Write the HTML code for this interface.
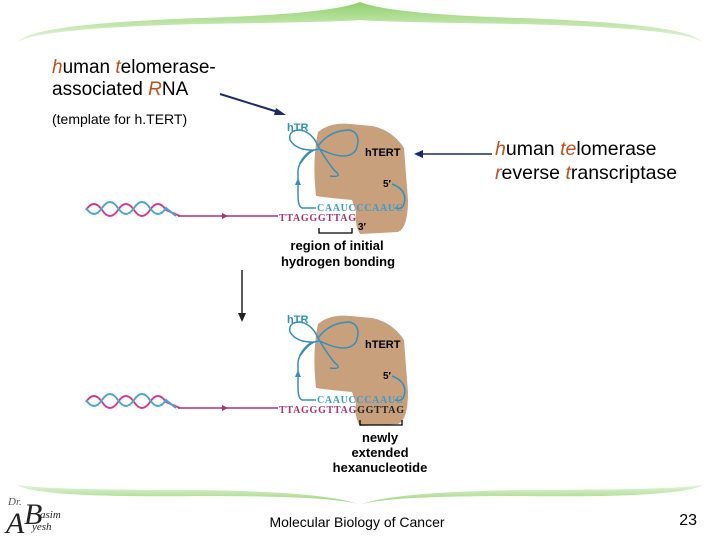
<!DOCTYPE html>
<html><head><meta charset="utf-8"><style>
html,body{margin:0;padding:0;background:#fff;}
svg{display:block}
.a{font-family:"Liberation Sans",sans-serif;}
.o{fill:#c0501a;font-style:italic;}
.b{font-family:"Liberation Sans",sans-serif;font-weight:bold;}
.s{font-family:"Liberation Serif",serif;font-weight:bold;}
</style></head><body>
<svg width="720" height="540" viewBox="0 0 720 540" xmlns="http://www.w3.org/2000/svg">
<defs>
<linearGradient id="gt" x1="0" y1="0" x2="0" y2="1"><stop offset="0" stop-color="#8fd06a"/><stop offset="1" stop-color="#e8f6df"/></linearGradient>
<linearGradient id="gb" x1="0" y1="1" x2="0" y2="0"><stop offset="0" stop-color="#8fd06a"/><stop offset="1" stop-color="#e8f6df"/></linearGradient>
<g id="blk">
<path d="M318,132 Q330,122 350,124 L372,126 Q392,130 404,148 L408,200 Q408,228 398,232 L360,234 Q354,224 356,212 L352,200 Q330,198 316,196 Q312,160 318,132Z" fill="#c9a07c"/>
<path d="M86,210 q8,-12 16,0 t16,0 t16,0 t16,0 t16,0 L180,216" fill="none" stroke="#d83a8a" stroke-width="2"/>
<path d="M86,208 q8,12 16,0 t16,0 t16,0 t16,0 t16,0 L176,216" fill="none" stroke="#4aa6d6" stroke-width="2"/>
<line x1="178" y1="216" x2="278" y2="216" stroke="#b0306e" stroke-width="1.6"/>
<path d="M222,213 l6,3 l-6,3z" fill="#b0306e"/>
<path d="M316,208 L302,208 Q298,206 298,196 L298,170 Q300,158 312,150 Q296,150 290,140 Q288,130 300,130 Q312,132 318,146 Q326,160 334,170 Q344,178 330,176 M318,146 Q330,130 350,130 Q362,134 356,150 Q348,162 322,150 Q312,146 300,164" fill="none" stroke="#2f90c0" stroke-width="1.5"/>
<path d="M295,185 l3,-7 l3,7z" fill="#2f90c0"/>
<path d="M392,184 Q408,190 404,204 Q402,210 395,208" fill="none" stroke="#2f90c0" stroke-width="1.5"/>
</g>
</defs>
<path d="M18,42 Q30,24 200,18 Q330,14 360,2 Q390,14 520,18 Q690,24 702,42 Q680,28 520,24 Q380,22 360,20 Q340,22 200,24 Q40,28 18,42Z" fill="url(#gt)"/>
<path d="M16,484 Q30,490 200,490 Q330,492 360,505 Q390,492 520,490 Q690,490 704,484 Q690,498 520,496 Q380,496 360,505 Q340,496 200,496 Q30,498 16,484Z" fill="url(#gb)"/>
<text x="52" y="73" class="a" font-size="19"><tspan class="o">h</tspan>uman <tspan class="o">t</tspan>elomerase-</text>
<text x="52" y="95" class="a" font-size="19">associated <tspan class="o">R</tspan>NA</text>
<text x="52" y="124" class="a" font-size="14">(template for h.TERT)</text>
<line x1="220" y1="94" x2="278" y2="112" stroke="#1a2a6c" stroke-width="2"/>
<path d="M286,115 l-10,-7 l-2,7z" fill="#1a2a6c"/>
<text x="495" y="155" class="a" font-size="19.5"><tspan class="o">h</tspan>uman <tspan class="o">te</tspan>lomerase</text>
<text x="495" y="179" class="a" font-size="19.5"><tspan class="o">r</tspan>everse <tspan class="o">t</tspan>ranscriptase</text>
<line x1="492" y1="154" x2="422" y2="154" stroke="#1a2a6c" stroke-width="1.5"/>
<path d="M414,154 l9,-4 l0,8z" fill="#1a2a6c"/>
<use href="#blk"/>
<use href="#blk" y="192"/>
<line x1="242" y1="270" x2="242" y2="314" stroke="#222" stroke-width="1.5"/>
<path d="M238,313 l4,9 l4,-9z" fill="#222"/>
<text x="287" y="131" class="b" font-size="11" fill="#2f90c0">hTR</text>
<text x="365" y="156" class="b" font-size="11">hTERT</text>
<text x="383" y="187" class="b" font-size="10">5′</text>
<text x="317" y="211" class="s" font-size="10" fill="#3a9ccc" textLength="86">CAAUCCCAAUC</text>
<text x="279" y="221" class="s" font-size="10" fill="#b0306e" textLength="77">TTAGGGTTAG</text>
<text x="358" y="230" class="b" font-size="10">3′</text>
<path d="M319,228 L319,233 L352,233 L352,228" fill="none" stroke="#000" stroke-width="1.3"/>
<text x="337" y="250" class="b" font-size="13" text-anchor="middle">region of initial</text>
<text x="338" y="266" class="b" font-size="13" text-anchor="middle">hydrogen bonding</text>
<text x="287" y="323" class="b" font-size="11" fill="#2f90c0">hTR</text>
<text x="365" y="348" class="b" font-size="11">hTERT</text>
<text x="383" y="379" class="b" font-size="10">5′</text>
<text x="317" y="403" class="s" font-size="10" fill="#3a9ccc" textLength="86">CAAUCCCAAUC</text>
<text x="279" y="413" class="s" font-size="10" fill="#b0306e" textLength="125">TTAGGGTTAG<tspan fill="#222">GGTTAG</tspan></text>
<path d="M360,420 L360,425 L402,425 L402,420" fill="none" stroke="#000" stroke-width="1.3"/>
<text x="380" y="442" class="b" font-size="13" text-anchor="middle">newly</text>
<text x="380" y="457" class="b" font-size="13" text-anchor="middle">extended</text>
<text x="380" y="472" class="b" font-size="13" text-anchor="middle">hexanucleotide</text>
<text x="357" y="527" class="a" font-size="14" text-anchor="middle">Molecular Biology of Cancer</text>
<text x="697" y="525" class="a" font-size="16" text-anchor="end">23</text>
<text x="8" y="505" font-family="Liberation Serif,serif" font-style="italic" font-size="11" fill="#555">Dr.</text>
<text x="24" y="524" font-family="Liberation Serif,serif" font-style="italic" font-size="30" fill="#222">B</text>
<text x="6" y="533" font-family="Liberation Serif,serif" font-style="italic" font-size="30" fill="#222">A</text>
<text x="40" y="518" font-family="Liberation Serif,serif" font-style="italic" font-size="11" fill="#222">asim</text>
<text x="32" y="530" font-family="Liberation Serif,serif" font-style="italic" font-size="11" fill="#222">yesh</text>
</svg>
</body></html>
